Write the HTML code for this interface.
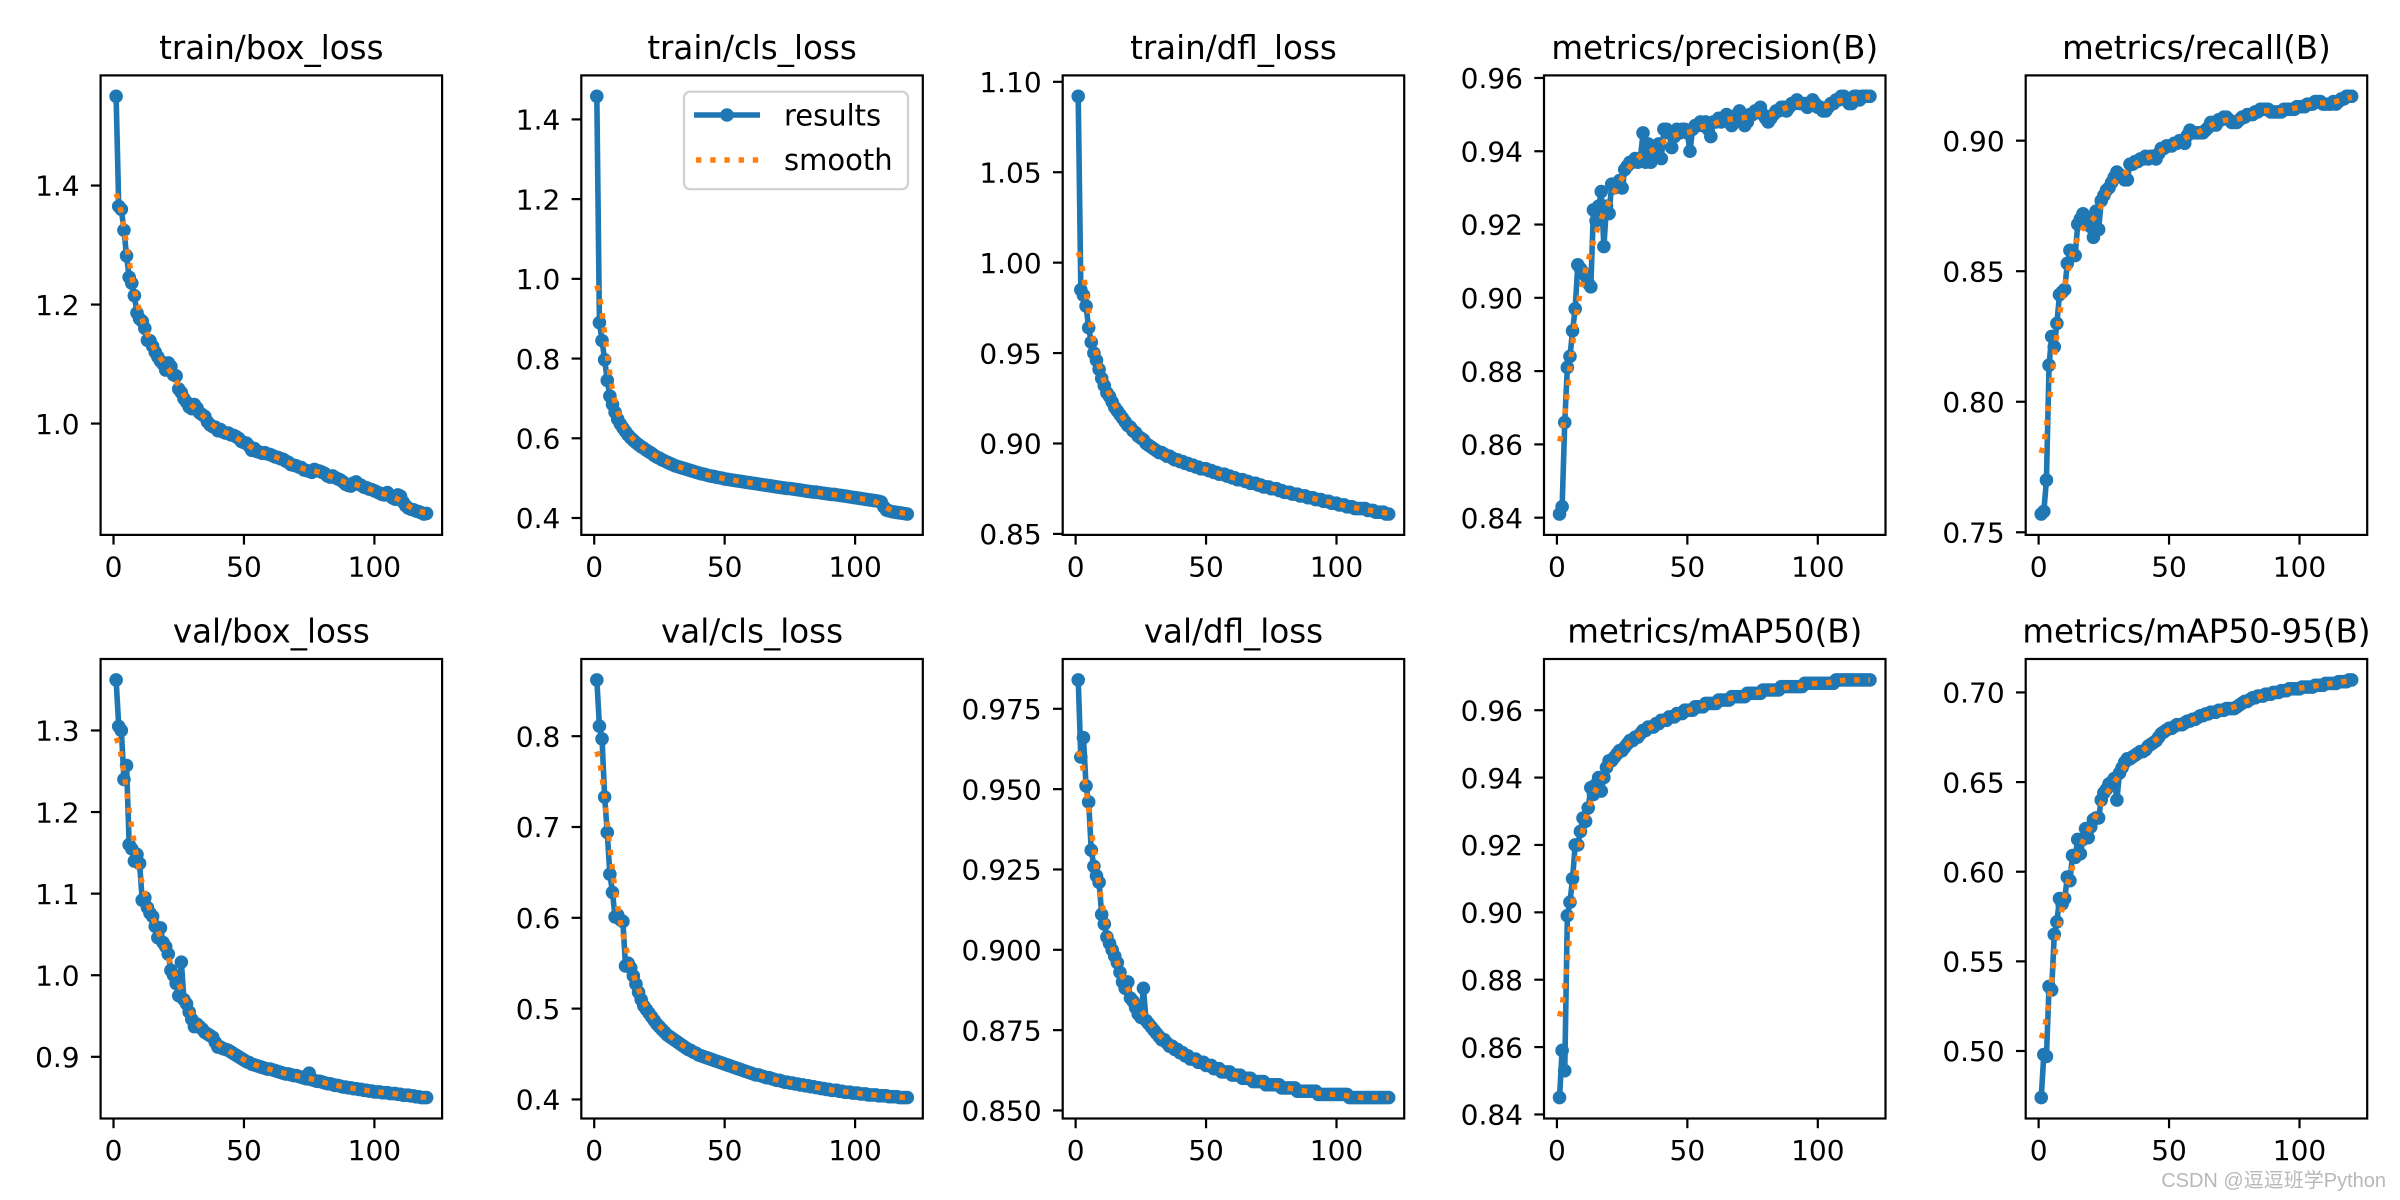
<!DOCTYPE html>
<html><head><meta charset="utf-8"><style>
html,body{margin:0;padding:0;background:#fff;}
svg{display:block;font-family:"DejaVu Sans","Liberation Sans",sans-serif;}
</style></head><body>
<svg id="fig" width="2400" height="1200" viewBox="0 0 2400 1200" xmlns="http://www.w3.org/2000/svg">
<rect width="2400" height="1200" fill="#fff"/>
<text x="2386" y="1187" text-anchor="end" font-size="20" fill="#b8b8b8" font-family="Liberation Sans, Noto Sans CJK SC, sans-serif">CSDN @逗逗班学Python</text>
</svg>
<script>
const titles = ["train/box_loss","train/cls_loss","train/dfl_loss","metrics/precision(B)","metrics/recall(B)","val/box_loss","val/cls_loss","val/dfl_loss","metrics/mAP50(B)","metrics/mAP50-95(B)"];
const xTicks = [0,50,100];
const yTicks0 = [1.0,1.2,1.4];
const yTicks1 = [0.4,0.6,0.8,1.0,1.2,1.4];
const yTicks2 = [0.85,0.90,0.95,1.00,1.05,1.10];
const yTicks3 = [0.84,0.86,0.88,0.90,0.92,0.94,0.96];
const yTicks4 = [0.75,0.80,0.85,0.90];
const yTicks5 = [0.9,1.0,1.1,1.2,1.3];
const yTicks6 = [0.4,0.5,0.6,0.7,0.8];
const yTicks7 = [0.850,0.875,0.900,0.925,0.950,0.975];
const yTicks8 = [0.84,0.86,0.88,0.90,0.92,0.94,0.96];
const yTicks9 = [0.50,0.55,0.60,0.65,0.70];
const yDecimals = [1,1,2,2,2,1,1,3,2,2];

const trainBox = [1.550,1.365,1.360,1.325,1.282,1.246,1.236,1.215,1.186,1.176,1.172,1.160,1.140,1.139,1.130,1.120,1.112,1.105,1.100,1.090,1.102,1.096,1.082,1.080,1.058,1.052,1.042,1.036,1.028,1.025,1.032,1.026,1.018,1.015,1.012,1.003,0.998,0.995,0.994,0.988,0.990,0.986,0.984,0.984,0.981,0.980,0.978,0.975,0.970,0.968,0.967,0.962,0.955,0.958,0.953,0.952,0.950,0.951,0.949,0.948,0.946,0.944,0.943,0.941,0.940,0.937,0.935,0.931,0.930,0.929,0.927,0.926,0.922,0.921,0.920,0.918,0.923,0.921,0.920,0.918,0.916,0.912,0.910,0.912,0.909,0.907,0.905,0.902,0.898,0.896,0.895,0.900,0.902,0.898,0.896,0.893,0.892,0.890,0.889,0.887,0.885,0.883,0.881,0.880,0.884,0.879,0.875,0.873,0.880,0.878,0.868,0.862,0.858,0.856,0.855,0.853,0.852,0.850,0.848,0.849];
const trainCls = [1.458,0.890,0.845,0.797,0.745,0.706,0.685,0.665,0.648,0.636,0.626,0.617,0.608,0.601,0.595,0.589,0.584,0.579,0.575,0.570,0.566,0.562,0.557,0.553,0.550,0.546,0.543,0.540,0.537,0.534,0.531,0.529,0.527,0.525,0.523,0.521,0.519,0.517,0.515,0.513,0.511,0.510,0.508,0.506,0.505,0.504,0.502,0.501,0.500,0.498,0.497,0.496,0.495,0.494,0.493,0.492,0.491,0.490,0.489,0.488,0.487,0.486,0.485,0.484,0.483,0.482,0.481,0.480,0.479,0.478,0.477,0.476,0.475,0.474,0.474,0.473,0.472,0.471,0.470,0.469,0.468,0.467,0.466,0.465,0.465,0.464,0.463,0.462,0.461,0.460,0.459,0.459,0.458,0.457,0.456,0.455,0.454,0.453,0.452,0.451,0.450,0.449,0.448,0.447,0.446,0.445,0.444,0.443,0.442,0.440,0.428,0.420,0.418,0.416,0.415,0.414,0.413,0.412,0.411,0.410];
const trainDfl = [1.092,0.985,0.982,0.976,0.964,0.956,0.950,0.946,0.941,0.936,0.932,0.928,0.926,0.923,0.920,0.918,0.916,0.914,0.912,0.910,0.909,0.907,0.906,0.904,0.903,0.902,0.900,0.899,0.898,0.897,0.896,0.895,0.895,0.894,0.893,0.893,0.892,0.891,0.891,0.890,0.890,0.889,0.889,0.888,0.888,0.887,0.887,0.886,0.886,0.886,0.885,0.885,0.884,0.884,0.883,0.883,0.883,0.882,0.882,0.881,0.881,0.880,0.880,0.880,0.879,0.879,0.878,0.878,0.878,0.877,0.877,0.876,0.876,0.876,0.875,0.875,0.875,0.874,0.874,0.873,0.873,0.873,0.872,0.872,0.872,0.871,0.871,0.871,0.870,0.870,0.870,0.869,0.869,0.869,0.868,0.868,0.868,0.867,0.867,0.867,0.866,0.866,0.866,0.865,0.865,0.865,0.864,0.864,0.864,0.864,0.864,0.863,0.863,0.863,0.862,0.862,0.862,0.862,0.861,0.861];
const precision = [0.841,0.843,0.866,0.881,0.884,0.891,0.897,0.909,0.908,0.907,0.906,0.904,0.903,0.924,0.921,0.925,0.929,0.914,0.925,0.923,0.931,0.930,0.931,0.932,0.930,0.935,0.936,0.937,0.937,0.938,0.937,0.938,0.945,0.937,0.942,0.937,0.939,0.941,0.942,0.938,0.946,0.946,0.945,0.941,0.944,0.946,0.945,0.946,0.946,0.945,0.940,0.946,0.947,0.947,0.948,0.947,0.948,0.946,0.944,0.948,0.948,0.949,0.948,0.949,0.950,0.949,0.947,0.948,0.950,0.951,0.949,0.947,0.948,0.950,0.950,0.951,0.951,0.952,0.950,0.949,0.948,0.949,0.950,0.951,0.951,0.952,0.952,0.951,0.952,0.953,0.953,0.954,0.953,0.953,0.953,0.952,0.953,0.954,0.953,0.952,0.952,0.951,0.951,0.952,0.953,0.953,0.954,0.954,0.955,0.955,0.954,0.953,0.953,0.955,0.955,0.954,0.955,0.955,0.955,0.955];
const recall = [0.757,0.758,0.770,0.814,0.825,0.821,0.830,0.841,0.842,0.843,0.853,0.858,0.857,0.856,0.868,0.870,0.872,0.870,0.868,0.867,0.863,0.873,0.866,0.877,0.879,0.881,0.882,0.884,0.886,0.888,0.887,0.886,0.885,0.885,0.891,0.891,0.892,0.892,0.893,0.893,0.894,0.893,0.894,0.894,0.893,0.895,0.897,0.897,0.898,0.898,0.898,0.899,0.899,0.900,0.900,0.899,0.902,0.904,0.903,0.903,0.903,0.903,0.903,0.904,0.905,0.907,0.907,0.906,0.908,0.908,0.909,0.909,0.908,0.907,0.907,0.907,0.908,0.909,0.909,0.910,0.910,0.910,0.911,0.911,0.912,0.912,0.912,0.912,0.911,0.911,0.911,0.911,0.911,0.912,0.912,0.912,0.912,0.912,0.913,0.913,0.913,0.913,0.914,0.914,0.914,0.915,0.915,0.915,0.914,0.914,0.914,0.914,0.915,0.914,0.915,0.916,0.916,0.917,0.917,0.917];
const valBox = [1.362,1.305,1.300,1.240,1.257,1.160,1.155,1.140,1.148,1.137,1.092,1.095,1.083,1.076,1.072,1.060,1.046,1.058,1.040,1.035,1.026,1.006,1.000,0.990,0.975,1.016,0.970,0.965,0.955,0.946,0.937,0.940,0.937,0.934,0.930,0.928,0.926,0.924,0.918,0.912,0.912,0.910,0.909,0.908,0.906,0.904,0.902,0.900,0.898,0.896,0.894,0.893,0.891,0.890,0.889,0.888,0.887,0.886,0.885,0.885,0.884,0.883,0.882,0.881,0.880,0.879,0.879,0.878,0.877,0.877,0.876,0.875,0.874,0.873,0.880,0.872,0.871,0.870,0.870,0.869,0.868,0.867,0.867,0.866,0.865,0.865,0.864,0.863,0.863,0.862,0.862,0.861,0.861,0.860,0.860,0.859,0.859,0.858,0.858,0.857,0.857,0.857,0.856,0.856,0.856,0.855,0.855,0.855,0.854,0.854,0.853,0.853,0.853,0.852,0.852,0.851,0.851,0.850,0.850,0.850];
const valCls = [0.862,0.811,0.797,0.733,0.694,0.648,0.628,0.601,0.603,0.598,0.596,0.547,0.550,0.545,0.536,0.527,0.518,0.510,0.503,0.499,0.495,0.491,0.487,0.483,0.480,0.477,0.474,0.471,0.469,0.467,0.465,0.463,0.461,0.459,0.457,0.455,0.454,0.452,0.451,0.449,0.448,0.447,0.446,0.445,0.444,0.443,0.442,0.441,0.440,0.439,0.438,0.437,0.436,0.435,0.434,0.433,0.432,0.431,0.430,0.429,0.428,0.427,0.427,0.426,0.425,0.424,0.424,0.423,0.422,0.421,0.421,0.420,0.419,0.419,0.418,0.418,0.417,0.417,0.416,0.416,0.415,0.415,0.414,0.414,0.413,0.413,0.412,0.412,0.411,0.411,0.410,0.410,0.410,0.409,0.409,0.408,0.408,0.408,0.407,0.407,0.407,0.406,0.406,0.406,0.405,0.405,0.405,0.405,0.404,0.404,0.404,0.404,0.403,0.403,0.403,0.403,0.402,0.402,0.402,0.402];
const valDfl = [0.984,0.960,0.966,0.951,0.946,0.931,0.926,0.923,0.921,0.911,0.908,0.904,0.902,0.900,0.898,0.896,0.893,0.890,0.888,0.890,0.885,0.884,0.882,0.880,0.879,0.888,0.878,0.877,0.876,0.875,0.874,0.873,0.872,0.872,0.871,0.870,0.870,0.869,0.869,0.868,0.868,0.867,0.867,0.866,0.866,0.866,0.865,0.865,0.865,0.864,0.864,0.864,0.863,0.863,0.863,0.862,0.862,0.862,0.862,0.861,0.861,0.861,0.861,0.860,0.860,0.860,0.860,0.859,0.859,0.859,0.859,0.859,0.858,0.858,0.858,0.858,0.858,0.858,0.857,0.857,0.857,0.857,0.857,0.857,0.856,0.856,0.856,0.856,0.856,0.856,0.856,0.856,0.855,0.855,0.855,0.855,0.855,0.855,0.855,0.855,0.855,0.855,0.855,0.855,0.854,0.854,0.854,0.854,0.854,0.854,0.854,0.854,0.854,0.854,0.854,0.854,0.854,0.854,0.854,0.854];
const map50 = [0.845,0.859,0.853,0.899,0.903,0.910,0.920,0.920,0.924,0.928,0.927,0.931,0.937,0.935,0.938,0.940,0.936,0.940,0.943,0.945,0.945,0.946,0.947,0.948,0.948,0.949,0.950,0.951,0.951,0.952,0.952,0.953,0.954,0.954,0.955,0.955,0.955,0.956,0.956,0.957,0.957,0.957,0.958,0.958,0.958,0.959,0.959,0.959,0.960,0.960,0.960,0.960,0.961,0.961,0.961,0.961,0.962,0.962,0.962,0.962,0.962,0.963,0.963,0.963,0.963,0.963,0.964,0.964,0.964,0.964,0.964,0.964,0.965,0.965,0.965,0.965,0.965,0.965,0.966,0.966,0.966,0.966,0.966,0.966,0.966,0.967,0.967,0.967,0.967,0.967,0.967,0.967,0.967,0.967,0.968,0.968,0.968,0.968,0.968,0.968,0.968,0.968,0.968,0.968,0.968,0.968,0.969,0.969,0.969,0.969,0.969,0.969,0.969,0.969,0.969,0.969,0.969,0.969,0.969,0.969];
const map5095 = [0.474,0.498,0.497,0.536,0.534,0.565,0.572,0.585,0.582,0.585,0.597,0.595,0.609,0.608,0.618,0.610,0.618,0.624,0.619,0.625,0.629,0.630,0.630,0.640,0.644,0.646,0.649,0.650,0.652,0.640,0.655,0.658,0.661,0.663,0.663,0.664,0.665,0.666,0.667,0.667,0.668,0.670,0.671,0.672,0.673,0.675,0.677,0.678,0.679,0.680,0.680,0.681,0.682,0.682,0.682,0.683,0.684,0.684,0.685,0.685,0.686,0.687,0.687,0.688,0.688,0.689,0.689,0.689,0.690,0.690,0.690,0.691,0.691,0.691,0.691,0.692,0.693,0.694,0.695,0.695,0.696,0.697,0.697,0.698,0.698,0.698,0.699,0.699,0.699,0.700,0.700,0.700,0.701,0.701,0.701,0.702,0.702,0.702,0.702,0.702,0.703,0.703,0.703,0.703,0.703,0.704,0.704,0.704,0.704,0.705,0.705,0.705,0.705,0.705,0.706,0.706,0.706,0.706,0.707,0.707];

const series = [trainBox,trainCls,trainDfl,precision,recall,valBox,valCls,valDfl,map50,map5095];
const yTickSets = [yTicks0,yTicks1,yTicks2,yTicks3,yTicks4,yTicks5,yTicks6,yTicks7,yTicks8,yTicks9];

const colL = [100.6,581.3,1062.7,1544,2025.7];
const colW = 341.5;
const rowT = [75.4,659];
const rowH = 459.5;
const NS = "http://www.w3.org/2000/svg";
const svg = document.getElementById('fig');
const BLUE = "#1f77b4", ORANGE = "#ff7f0e";
const MR = 6.8, LW = 5.6;

function mk(tag, attrs, parent){
  const e = document.createElementNS(NS, tag);
  for (const k in attrs) e.setAttribute(k, attrs[k]);
  (parent||svg).appendChild(e);
  return e;
}
function gaussSmooth(y, sigma){
  const r = Math.round(4*sigma), w = [];
  let s = 0;
  for (let i=-r;i<=r;i++){ const v=Math.exp(-0.5*i*i/(sigma*sigma)); w.push(v); s+=v; }
  const n = y.length, out = [];
  const refl = i => { while(i<0||i>=n){ if(i<0) i=-i-1; if(i>=n) i=2*n-i-1; } return i; };
  for (let i=0;i<n;i++){ let a=0; for (let k=-r;k<=r;k++) a+=w[k+r]*y[refl(i+k)]; out.push(a/s); }
  return out;
}

series.forEach((ys, p) => {
  const col = p%5, row = Math.floor(p/5);
  const L = colL[col], T = rowT[row], R = L+colW, B = T+rowH;
  const sm = gaussSmooth(ys, 3);
  const xs = ys.map((_,i)=>i+1);
  const xmin = 1, xmax = ys.length;
  const xm = (xmax-xmin)*0.05;
  const all = ys.concat(sm);
  const ymin = Math.min(...all), ymax = Math.max(...all), ym = (ymax-ymin)*0.05;
  const xS = v => L + (v-(xmin-xm))/((xmax+xm)-(xmin-xm))*colW;
  const yS = v => B - (v-(ymin-ym))/((ymax+ym)-(ymin-ym))*rowH;

  const g = mk('g', {});
  
  

  const t = mk('text', {x:(L+R)/2, y:T-16.5, 'text-anchor':'middle', 'font-size':'32.5', fill:'#000'}, g);
  t.textContent = titles[p];
  
  

  const pts = xs.map((x,i)=>xS(x).toFixed(2)+','+yS(ys[i]).toFixed(2)).join(' ');
  const pl = mk('polyline', {points:pts, fill:'none', stroke:BLUE, 'stroke-width':LW, 'stroke-linejoin':'round'}, g);
  
  
  xs.forEach((x,i)=>{
    const c = mk('circle', {cx:xS(x).toFixed(2), cy:yS(ys[i]).toFixed(2), r:MR, fill:BLUE}, g);
    
    
  });
  const spts = xs.map((x,i)=>xS(x).toFixed(2)+','+yS(sm[i]).toFixed(2)).join(' ');
  const sl = mk('polyline', {points:spts, fill:'none', stroke:ORANGE, 'stroke-width':'5.4', 'stroke-dasharray':'5.4 8.8'}, g);
  
  

  const fr = mk('rect', {x:L, y:T, width:colW, height:rowH, fill:'none', stroke:'#000', 'stroke-width':'2.2'}, g);
  
  

  xTicks.forEach(v=>{
    const X = xS(v);
    const tl = mk('line', {x1:X, x2:X, y1:B, y2:B+9.7, stroke:'#000', 'stroke-width':'2.2'}, g);
    
    
    const tx = mk('text', {x:X, y:B+41.5, 'text-anchor':'middle', 'font-size':'28', fill:'#000'}, g);
    tx.textContent = String(v);
    
    
  });
  yTickSets[p].forEach(v=>{
    const Y = yS(v);
    if (Y < T-1 || Y > B+1) return;
    const tl = mk('line', {x1:L-9.7, x2:L, y1:Y, y2:Y, stroke:'#000', 'stroke-width':'2.2'}, g);
    
    
    const tx = mk('text', {x:L-21, y:Y+10.2, 'text-anchor':'end', 'font-size':'28', fill:'#000'}, g);
    tx.textContent = v.toFixed(yDecimals[p]);
    
    
  });

  if (p === 1){
    const lg = mk('g', {}, g);
    
    
    mk('rect', {x:684, y:91.7, width:224, height:97.5, rx:6, fill:'#fff', 'fill-opacity':'0.8', stroke:'#d0d0d0', 'stroke-width':'2.2'}, lg);
    const e1 = mk('g', {}, lg);
    
    
    mk('line', {x1:694, x2:760, y1:115, y2:115, stroke:BLUE, 'stroke-width':LW}, e1);
    mk('circle', {cx:727, cy:115, r:MR, fill:BLUE}, e1);
    const t1 = mk('text', {x:784, y:125.5, 'font-size':'29', fill:'#000'}, e1);
    t1.textContent = 'results';
    const e2 = mk('g', {}, lg);
    
    
    mk('line', {x1:696, x2:760, y1:160, y2:160, stroke:ORANGE, 'stroke-width':'5.4', 'stroke-dasharray':'5.4 8.8'}, e2);
    const t2 = mk('text', {x:784, y:170, 'font-size':'29', fill:'#000'}, e2);
    t2.textContent = 'smooth';
  }
});
</script>
</body></html>
